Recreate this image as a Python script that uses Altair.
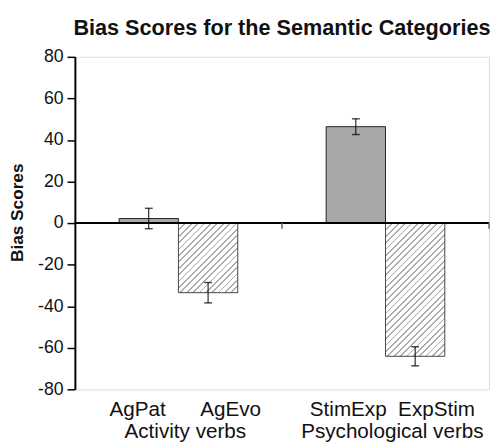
import json
import altair as alt
import pandas as pd

# ---- data ----
group_names = ["Activity verbs", "Psychological verbs"]
groups = ["Activity verbs", "Activity verbs", "Psychological verbs", "Psychological verbs"]
categories = ["AgPat", "AgEvo", "StimExp", "ExpStim"]
kinds = ["solid", "hatched", "solid", "hatched"]
scores = [2.2, -33.5, 46.4, -64.1]
errors = [4.9, 4.9, 3.8, 4.6]
y_ticks = [-80, -60, -40, -20, 0, 20, 40, 60, 80]
title_text = "Bias Scores for the Semantic Categories"
y_title = "Bias Scores"

df = pd.DataFrame({
    "group": groups,
    "category": categories,
    "kind": kinds,
    "score": scores,
    "err": errors,
})
df["lo"] = df["score"] - df["err"]
df["hi"] = df["score"] + df["err"]

# ---- layout / style ----
W, H = 421, 338
Y_DOM = [-80, 80]
OFFSET_PAD = 0.7455
FONT = "Liberation Sans"
bar_w = (W / 2) / (2 + 2 * OFFSET_PAD)


def hatch(value, period=6.5, frac=0.28, line_col="#ababab"):
    w = bar_w
    h = abs(value) * H / (Y_DOM[1] - Y_DOM[0])
    s = (w + h) / (w * w + h * h)
    total = w + h
    stops = []
    k = 0
    while k * period < total:
        t0 = k * period / total
        t1 = min((k * period + period * frac) / total, 1.0)
        t2 = min((k + 1) * period / total, 1.0)
        stops += [
            {"offset": t0, "color": line_col},
            {"offset": t1, "color": line_col},
            {"offset": t1, "color": "#ffffff"},
            {"offset": t2, "color": "#ffffff"},
        ]
        k += 1
    return {"gradient": "linear", "x1": 0, "y1": 0, "x2": s * w, "y2": s * h, "stops": stops}


# two-line group labels: sub-category names above the group name
first_lines = {}
for g in group_names:
    subs = [c for c, gg in zip(categories, groups) if gg == g]
    gap = "\u00a0" * (6 if g == group_names[0] else 2)
    first_lines[g] = gap.join(subs)
label_expr = " : ".join(
    [f"datum.value == {json.dumps(g)} ? [{json.dumps(first_lines[g])}, {json.dumps(g)}]" for g in group_names[:-1]]
    + [f"[{json.dumps(first_lines[group_names[-1]])}, {json.dumps(group_names[-1])}]"]
)

x_axis = alt.Axis(
    title=None, domain=False, ticks=False, labelAngle=0, labelLimit=0,
    labelExpr=label_expr, labelFontSize=21, labelLineHeight=22,
    labelPadding=10, labelOffset=7, labelColor="#111111", labelFont=FONT,
)
x_scale = alt.Scale(domain=group_names, paddingInner=0, paddingOuter=0)
x_enc = alt.X("group:N", scale=x_scale, axis=x_axis)
xo_enc = alt.XOffset("kind:N", scale=alt.Scale(domain=["solid", "hatched"], paddingInner=0, paddingOuter=OFFSET_PAD))

y_axis = alt.Axis(
    values=y_ticks, grid=False, domainColor="black", domainWidth=2,
    tickColor="black", tickWidth=1.5, tickSize=8,
    labelExpr="'' + datum.value",
    labelFontSize=18, labelPadding=4, labelColor="#111111", labelFont=FONT,
    titleFontSize=17.5, titleFontWeight="bold", titleColor="#111111", titleFont=FONT,
    titleAngle=270, titleAlign="center", titleBaseline="middle", titleX=-58, titleY=158,
)
y_scale = alt.Scale(domain=Y_DOM, nice=False, zero=False)


def y_field(f):
    return alt.Y(f"{f}:Q", scale=y_scale, axis=y_axis, title=y_title)


base = alt.Chart(df)

solid = base.transform_filter(alt.datum.kind == "solid").mark_bar(
    fill="#a8a8a8", stroke="#222222", strokeWidth=1
).encode(x=x_enc, xOffset=xo_enc, y=y_field("score"))

hatched_layers = []
for cat, kd, val in zip(categories, kinds, scores):
    if kd != "hatched":
        continue
    hatched_layers.append(
        base.transform_filter(alt.datum.category == cat).mark_bar(
            fill=hatch(val), stroke="#444444", strokeWidth=1
        ).encode(x=x_enc, xOffset=xo_enc, y=y_field("score"))
    )

zero_line = base.mark_rule(color="black", strokeWidth=2).encode(
    y=alt.Y(datum=0, scale=y_scale, axis=y_axis, title=y_title),
    x=alt.value(0), x2=alt.value(W),
)

bound_layers = []
for bp in [0, 1]:
    bound_layers.append(
        alt.Chart(pd.DataFrame({"group": [group_names[-1]]})).mark_rule(color="#666666", strokeWidth=1.5).encode(
            x=alt.X("group:N", scale=x_scale, axis=x_axis, bandPosition=bp),
            y=alt.Y(datum=0, scale=y_scale, axis=y_axis, title=y_title),
            y2=alt.Y2(datum=-2.7),
        )
    )

err_rule = base.mark_rule(color="black", strokeWidth=1).encode(
    x=x_enc, xOffset=xo_enc, y=y_field("lo"), y2="hi:Q"
)
cap_lo = base.mark_tick(color="black", size=8, thickness=1.5).encode(
    x=x_enc, xOffset=xo_enc, y=y_field("lo")
)
cap_hi = base.mark_tick(color="black", size=8, thickness=1.5).encode(
    x=x_enc, xOffset=xo_enc, y=y_field("hi")
)

chart = alt.layer(
    solid, *hatched_layers, zero_line, *bound_layers, err_rule, cap_lo, cap_hi
).properties(
    width=W, height=H,
    title=alt.TitleParams(title_text, fontSize=22, fontWeight="bold", font=FONT,
                          color="#111111", anchor="middle", offset=8),
    autosize=alt.AutoSizeParams(type="none"),
    padding={"left": 68, "top": 46, "right": 1, "bottom": 56},
).configure_view(stroke=None).configure(font=FONT)

chart.save("out.html", embed_options={"renderer": "svg", "actions": False})
